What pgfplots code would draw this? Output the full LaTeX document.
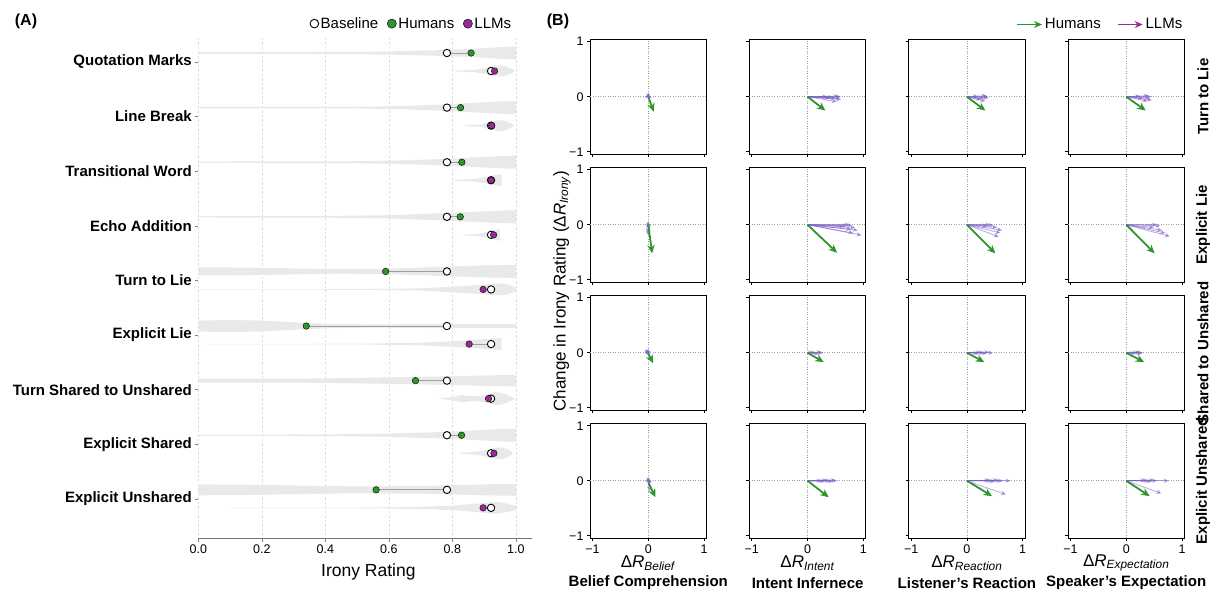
\documentclass[border=0pt]{standalone}
\usepackage{pgfplots}
\pgfplotsset{compat=1.18}
\usepackage{fontspec}
\setmainfont{Liberation Sans}
\usetikzlibrary{arrows.meta}
\definecolor{hgreen}{RGB}{44,150,44}
\definecolor{lpurple}{RGB}{152,42,152}
\definecolor{larrow}{RGB}{125,95,200}
\definecolor{violin}{RGB}{233,233,233}
\definecolor{gridc}{RGB}{222,222,222}
\newcommand\fs[1]{\fontsize{#1}{#1}\selectfont}
\pgfplotsset{
  cell/.style={scale only axis, width=116.5pt, height=114.5pt, anchor=north west,
    xmin=-1.045, xmax=1.045, ymin=-1.04, ymax=1.04,
    xtick={-1,0,1}, ytick={-1,0,1}, xticklabels={}, yticklabels={},
    tick align=outside, tick pos=left, major tick length=3pt,
    axis line style={black, line width=0.9pt}, tick style={black, line width=0.7pt},
    ticklabel style={font=\fs{12.5}}},
  xlab/.style={xticklabels={−1,0,1}},
  ylab/.style={yticklabels={−1,0,1}},
  zero/.style={forget plot, gray!75, dotted, line width=0.5pt},
  hum/.style={forget plot, hgreen, line width=1.8pt, -{Stealth[length=8.5pt,width=7.5pt]}, quiver={u=\thisrow{u},v=\thisrow{v}}},
  llm/.style={forget plot, larrow, opacity=0.55, line width=0.8pt, -{Stealth[length=5pt,width=4.5pt]}, quiver={u=\thisrow{u},v=\thisrow{v}}},
}
\newcommand\zl{\addplot[zero] coordinates {(-1.045,0) (1.045,0)};\addplot[zero] coordinates {(0,-1.04) (0,1.04)};}
\begin{document}
\begin{tikzpicture}
\useasboundingbox (0,0) rectangle (1225pt,594pt);
% ---------------- Panel A ----------------
\begin{axis}[scale only axis, width=333.4pt, height=500.7pt, anchor=north west, at={(198.3pt,556pt)},
  xmin=0, xmax=1.05, ymin=0.56, ymax=9.73, y dir=reverse,
  axis x line*=bottom, axis y line*=left,
  x axis line style={draw=gray!90!black, line width=0.8pt}, y axis line style={draw=none},
  xtick={0,0.2,0.4,0.6,0.8,1}, xticklabels={0.0,0.2,0.4,0.6,0.8,1.0},
  ytick={1,2,3,4,5,6,7,8,9},
  yticklabels={Quotation Marks,Line Break,Transitional Word,Echo Addition,Turn to Lie,Explicit Lie,Turn Shared to Unshared,Explicit Shared,Explicit Unshared},
  yticklabel style={font=\bfseries\fs{15}},
  xticklabel style={font=\fs{12.5}},
  xmajorgrids, grid style={dash pattern=on 2.5pt off 2pt, gridc, line width=0.6pt},
  tick align=outside, major tick length=3pt, tick style={gray, line width=0.6pt},
  xlabel={Irony Rating}, x label style={font=\fs{17.5}, at={(axis description cs:0.51,-0.066)}, anchor=center},
  legend style={draw=none, fill=none, font=\fs{15}, legend columns=3, at={(0.945,1.012)}, anchor=south east, inner sep=0pt,
    /tikz/every even column/.append style={column sep=7pt}},
  legend image code/.code={\draw[#1] plot coordinates {(0pt,0pt)};},
]
% violins humans
\addplot[forget plot, fill=violin, draw=none] coordinates {(0,.820)(.5,.815)(.65,.800)(.78,.780)(.88,.755)(.96,.725)(1,.715)(1,.955)(.96,.945)(.88,.915)(.78,.890)(.65,.870)(.5,.855)(0,.850)};
\addplot[forget plot, fill=violin, draw=none] coordinates {(0,1.823)(.5,1.820)(.65,1.805)(.78,1.775)(.88,1.745)(.96,1.720)(1,1.715)(1,1.955)(.96,1.950)(.88,1.925)(.78,1.895)(.65,1.865)(.5,1.850)(0,1.847)};
\addplot[forget plot, fill=violin, draw=none] coordinates {(0,2.823)(.5,2.817)(.65,2.800)(.78,2.775)(.88,2.745)(.96,2.720)(1,2.715)(1,2.955)(.96,2.950)(.88,2.925)(.78,2.895)(.65,2.870)(.5,2.853)(0,2.847)};
\addplot[forget plot, fill=violin, draw=none] coordinates {(0,3.823)(.4,3.820)(.6,3.805)(.78,3.765)(.88,3.740)(.96,3.720)(1,3.715)(1,3.955)(.96,3.950)(.88,3.930)(.78,3.905)(.6,3.865)(.4,3.850)(0,3.847)};
\addplot[forget plot, fill=violin, draw=none] coordinates {(0,4.760)(.15,4.765)(.3,4.780)(.45,4.795)(.6,4.785)(.75,4.755)(.9,4.725)(1,4.715)(1,4.955)(.9,4.945)(.75,4.915)(.6,4.885)(.45,4.875)(.3,4.890)(.15,4.905)(0,4.910)};
\addplot[forget plot, fill=violin, draw=none] coordinates {(0,5.735)(.1,5.725)(.2,5.735)(.3,5.765)(.4,5.795)(.55,5.805)(.7,5.800)(.85,5.795)(1,5.795)(1,5.875)(.85,5.875)(.7,5.870)(.55,5.865)(.4,5.875)(.3,5.905)(.2,5.935)(.1,5.945)(0,5.935)};
\addplot[forget plot, fill=violin, draw=none] coordinates {(0,6.800)(.2,6.800)(.4,6.795)(.6,6.775)(.75,6.760)(.9,6.740)(1,6.730)(1,6.940)(.9,6.930)(.75,6.910)(.6,6.895)(.4,6.875)(.2,6.870)(0,6.870)};
\addplot[forget plot, fill=violin, draw=none] coordinates {(0,7.825)(.4,7.820)(.6,7.805)(.75,7.780)(.88,7.745)(.96,7.720)(1,7.715)(1,7.955)(.96,7.950)(.88,7.925)(.75,7.890)(.6,7.865)(.4,7.850)(0,7.845)};
\addplot[forget plot, fill=violin, draw=none] coordinates {(0,8.735)(.15,8.740)(.3,8.755)(.5,8.773)(.7,8.765)(.9,8.735)(1,8.725)(1,8.945)(.9,8.935)(.7,8.905)(.5,8.897)(.3,8.915)(.15,8.930)(0,8.935)};
% violins LLMs
\addplot[forget plot, fill=violin, draw=none] coordinates {(.81,1.157)(.87,1.145)(.91,1.105)(.935,1.065)(.96,1.065)(.98,1.105)(.995,1.150)(.995,1.180)(.98,1.225)(.96,1.265)(.935,1.265)(.91,1.225)(.87,1.185)(.81,1.173)};
\addplot[forget plot, fill=violin, draw=none] coordinates {(.84,2.157)(.89,2.145)(.92,2.095)(.945,2.065)(.965,2.075)(.985,2.125)(.995,2.155)(.995,2.175)(.985,2.205)(.965,2.255)(.945,2.265)(.92,2.235)(.89,2.185)(.84,2.173)};
\addplot[forget plot, fill=violin, draw=none] coordinates {(.8,3.160)(.86,3.145)(.9,3.115)(.93,3.075)(.955,3.055)(.955,3.275)(.93,3.255)(.9,3.215)(.86,3.185)(.8,3.170)};
\addplot[forget plot, fill=violin, draw=none] coordinates {(.83,4.160)(.88,4.145)(.91,4.115)(.935,4.075)(.95,4.055)(.95,4.275)(.935,4.255)(.91,4.215)(.88,4.185)(.83,4.170)};
\addplot[forget plot, fill=violin, draw=none] coordinates {(0,5.161)(.5,5.159)(.7,5.145)(.8,5.115)(.88,5.085)(.94,5.055)(.97,5.065)(.985,5.095)(1,5.135)(1,5.195)(.985,5.235)(.97,5.265)(.94,5.275)(.88,5.245)(.8,5.215)(.7,5.185)(.5,5.171)(0,5.169)};
\addplot[forget plot, fill=violin, draw=none] coordinates {(.02,6.161)(.5,6.159)(.7,6.140)(.8,6.115)(.88,6.085)(.955,6.055)(.955,6.275)(.88,6.245)(.8,6.215)(.7,6.190)(.5,6.171)(.02,6.169)};
\addplot[forget plot, fill=violin, draw=none] coordinates {(.76,7.161)(.8,7.135)(.83,7.100)(.86,7.120)(.9,7.105)(.94,7.045)(.97,7.085)(.995,7.155)(.995,7.175)(.97,7.245)(.94,7.285)(.9,7.225)(.86,7.210)(.83,7.230)(.8,7.195)(.76,7.169)};
\addplot[forget plot, fill=violin, draw=none] coordinates {(.82,8.160)(.86,8.145)(.9,8.115)(.935,8.065)(.955,8.055)(.975,8.095)(.99,8.145)(.99,8.185)(.975,8.235)(.955,8.275)(.935,8.265)(.9,8.215)(.86,8.185)(.82,8.170)};
\addplot[forget plot, fill=violin, draw=none] coordinates {(.1,9.162)(.5,9.159)(.7,9.145)(.8,9.125)(.88,9.085)(.94,9.055)(.97,9.085)(1,9.125)(1,9.205)(.97,9.245)(.94,9.275)(.88,9.245)(.8,9.205)(.7,9.185)(.5,9.171)(.1,9.168)};
% connecting lines
\addplot[forget plot, gray!75, line width=0.9pt, unbounded coords=jump] coordinates {
(0.783,0.835)(0.859,0.835)(nan,nan)(0.783,1.835)(0.826,1.835)(nan,nan)(0.783,2.835)(0.830,2.835)(nan,nan)
(0.783,3.835)(0.825,3.835)(nan,nan)(0.783,4.835)(0.590,4.835)(nan,nan)(0.783,5.835)(0.340,5.835)(nan,nan)
(0.783,6.835)(0.684,6.835)(nan,nan)(0.783,7.835)(0.829,7.835)(nan,nan)(0.783,8.835)(0.560,8.835)(nan,nan)
(0.922,1.165)(0.933,1.165)(nan,nan)(0.922,2.165)(0.924,2.165)(nan,nan)(0.922,3.165)(0.922,3.165)(nan,nan)
(0.922,4.165)(0.930,4.165)(nan,nan)(0.922,5.165)(0.897,5.165)(nan,nan)(0.922,6.165)(0.853,6.165)(nan,nan)
(0.922,7.165)(0.914,7.165)(nan,nan)(0.922,8.165)(0.931,8.165)(nan,nan)(0.922,9.165)(0.897,9.165)};
% baseline circles
\addplot[forget plot, only marks, mark=*, mark size=3.7pt, mark options={fill=white, draw=black, line width=0.9pt}] coordinates {
(0.783,0.835)(0.783,1.835)(0.783,2.835)(0.783,3.835)(0.783,4.835)(0.783,5.835)(0.783,6.835)(0.783,7.835)(0.783,8.835)
(0.922,1.165)(0.922,2.165)(0.922,3.165)(0.922,4.165)(0.922,5.165)(0.922,6.165)(0.922,7.165)(0.922,8.165)(0.922,9.165)};
% humans
\addplot[forget plot, only marks, mark=*, mark size=3.3pt, mark options={fill=hgreen, draw=none}] coordinates {
(0.859,0.835)(0.826,1.835)(0.830,2.835)(0.825,3.835)(0.590,4.835)(0.340,5.835)(0.684,6.835)(0.829,7.835)(0.560,8.835)};
% LLMs
\addplot[forget plot, only marks, mark=*, mark size=3.3pt, mark options={fill=lpurple, draw=none}] coordinates {
(0.933,1.165)(0.924,2.165)(0.922,3.165)(0.930,4.165)(0.897,5.165)(0.853,6.165)(0.914,7.165)(0.931,8.165)(0.897,9.165)};
\addlegendimage{only marks, mark=*, mark size=4.3pt, mark options={fill=white, draw=black, line width=0.9pt}}
\addlegendentry{Baseline}
\addlegendimage{only marks, mark=*, mark size=4.6pt, mark options={fill=hgreen, draw=none}}
\addlegendentry{Humans}
\addlegendimage{only marks, mark=*, mark size=4.6pt, mark options={fill=lpurple, draw=none}}
\addlegendentry{LLMs}
\end{axis}
% ---------------- Panel B ----------------
% Row 1: Turn to Lie
\begin{axis}[cell, ylab, at={(590pt,554.5pt)}]
\zl
\addplot[llm] table[row sep=\\]{x y u v\\ 0 0 -0.03 0.06\\ 0 0 0.02 0.05\\ 0 0 0.03 -0.03\\ 0 0 -0.02 0.02\\ 0 0 0.01 0.07\\};
\addplot[hum] table[row sep=\\]{x y u v\\ 0.01 -0.03 0.09 -0.24\\};
\end{axis}
\begin{axis}[cell, at={(749.3pt,554.5pt)}]
\zl
\addplot[llm] table[row sep=\\]{x y u v\\ 0 0 0.6 0\\ 0 0 0.58 -0.02\\ 0 0 0.55 0.01\\ 0 0 0.5 -0.03\\ 0 0 0.45 -0.01\\ 0 0 0.6 -0.05\\ 0 0 0.52 -0.09\\ 0 0 0.4 -0.02\\ 0 0 0.35 0\\};
\addplot[hum] table[row sep=\\]{x y u v\\ 0 0 0.32 -0.25\\};
\end{axis}
\begin{axis}[cell, at={(908.7pt,554.5pt)}]
\zl
\addplot[llm] table[row sep=\\]{x y u v\\ 0 0 0.38 0\\ 0 0 0.39 -0.02\\ 0 0 0.35 0.02\\ 0 0 0.3 -0.03\\ 0 0 0.33 -0.08\\ 0 0 0.25 -0.05\\ 0 0 0.2 0.01\\};
\addplot[hum] table[row sep=\\]{x y u v\\ 0 0 0.33 -0.25\\};
\end{axis}
\begin{axis}[cell, at={(1068pt,554.5pt)},
  legend style={draw=none, fill=none, font=\fs{15}, legend columns=2, at={(1.0,1.06)}, anchor=south east, inner sep=0pt,
    /tikz/every even column/.append style={column sep=14pt}},
  legend image code/.code={\draw[#1] (0pt,0pt) -- (25pt,0pt);}]
\zl
\addplot[llm] table[row sep=\\]{x y u v\\ 0 0 0.45 0\\ 0 0 0.42 -0.02\\ 0 0 0.46 -0.06\\ 0 0 0.38 -0.08\\ 0 0 0.3 -0.03\\ 0 0 0.25 0.01\\ 0 0 0.4 0.02\\};
\addplot[hum] table[row sep=\\]{x y u v\\ 0 0 0.35 -0.25\\};
\addlegendimage{hgreen, line width=1.8pt, -{Stealth[length=8pt,width=7pt]}}
\addlegendentry{Humans}
\addlegendimage{lpurple, line width=1.8pt, -{Stealth[length=8pt,width=7pt]}}
\addlegendentry{LLMs}
\end{axis}
% Row 2: Explicit Lie
\begin{axis}[cell, ylab, at={(590pt,426.5pt)}]
\zl
\addplot[llm] table[row sep=\\]{x y u v\\ 0 0 -0.03 0.05\\ 0 0 0 0.06\\ 0 0 0.02 -0.1\\ 0 0 0 -0.2\\ 0 0 -0.01 -0.15\\};
\addplot[hum] table[row sep=\\]{x y u v\\ 0 0 0.07 -0.52\\};
\end{axis}
\begin{axis}[cell, at={(749.3pt,426.5pt)}]
\zl
\addplot[llm] table[row sep=\\]{x y u v\\ 0 0 0.75 0\\ 0 0 0.8 -0.01\\ 0 0 0.7 -0.02\\ 0 0 0.85 -0.05\\ 0 0 0.9 -0.1\\ 0 0 0.97 -0.19\\ 0 0 0.82 -0.15\\ 0 0 0.65 -0.03\\ 0 0 0.78 -0.08\\};
\addplot[hum] table[row sep=\\]{x y u v\\ 0 0 0.53 -0.51\\};
\end{axis}
\begin{axis}[cell, at={(908.7pt,426.5pt)}]
\zl
\addplot[llm] table[row sep=\\]{x y u v\\ 0 0 0.63 -0.1\\ 0 0 0.57 -0.22\\ 0 0 0.48 -0.01\\ 0 0 0.42 0\\ 0 0 0.54 -0.05\\ 0 0 0.36 -0.02\\ 0 0 0.6 -0.15\\};
\addplot[hum] table[row sep=\\]{x y u v\\ 0 0 0.51 -0.52\\};
\end{axis}
\begin{axis}[cell, at={(1068pt,426.5pt)}]
\zl
\addplot[llm] table[row sep=\\]{x y u v\\ 0 0 0.78 -0.21\\ 0 0 0.61 -0.02\\ 0 0 0.55 0\\ 0 0 0.64 -0.1\\ 0 0 0.49 -0.05\\ 0 0 0.7 -0.15\\};
\addplot[hum] table[row sep=\\]{x y u v\\ 0 0 0.51 -0.52\\};
\end{axis}
% Row 3: Shared to Unshared
\begin{axis}[cell, ylab, at={(590pt,298.5pt)}]
\zl
\addplot[llm] table[row sep=\\]{x y u v\\ 0 0 -0.07 0.05\\ 0 0 -0.04 0.07\\ 0 0 0.03 0.04\\ 0 0 0.04 -0.03\\ 0 0 -0.05 0.02\\};
\addplot[hum] table[row sep=\\]{x y u v\\ 0 -0.02 0.09 -0.17\\};
\end{axis}
\begin{axis}[cell, at={(749.3pt,298.5pt)}]
\zl
\addplot[llm] table[row sep=\\]{x y u v\\ 0 0 0.28 0\\ 0 0 0.25 0.01\\ 0 0 0.2 -0.02\\ 0 0 0.15 0\\ 0 0 0.1 0.01\\};
\addplot[hum] table[row sep=\\]{x y u v\\ 0 0 0.29 -0.17\\};
\end{axis}
\begin{axis}[cell, at={(908.7pt,298.5pt)}]
\zl
\addplot[llm] table[row sep=\\]{x y u v\\ 0 0 0.47 0\\ 0 0 0.4 0.01\\ 0 0 0.35 -0.01\\ 0 0 0.3 0\\ 0 0 0.25 0.01\\ 0 0 0.2 -0.01\\};
\addplot[hum] table[row sep=\\]{x y u v\\ 0 0 0.31 -0.17\\};
\end{axis}
\begin{axis}[cell, at={(1068pt,298.5pt)}]
\zl
\addplot[llm] table[row sep=\\]{x y u v\\ 0 0 0.3 0\\ 0 0 0.28 -0.01\\ 0 0 0.25 0.01\\ 0 0 0.2 0\\ 0 0 0.15 -0.01\\};
\addplot[hum] table[row sep=\\]{x y u v\\ 0 0 0.32 -0.17\\};
\end{axis}
% Row 4: Explicit Unshared
\begin{axis}[cell, ylab, xlab, at={(590pt,170.5pt)}]
\zl
\addplot[llm] table[row sep=\\]{x y u v\\ 0 0 -0.03 0.06\\ 0 0 0.03 0.05\\ 0 0 0.05 -0.04\\ 0 0 0.03 -0.19\\ 0 0 -0.02 0.02\\};
\addplot[hum] table[row sep=\\]{x y u v\\ 0 -0.03 0.13 -0.27\\};
\end{axis}
\begin{axis}[cell, xlab, at={(749.3pt,170.5pt)}]
\zl
\addplot[llm] table[row sep=\\]{x y u v\\ 0 0 0.53 0\\ 0 0 0.5 0.01\\ 0 0 0.45 -0.01\\ 0 0 0.4 0\\ 0 0 0.35 0.01\\ 0 0 0.3 -0.01\\ 0 0 0.25 0\\};
\addplot[hum] table[row sep=\\]{x y u v\\ 0 0 0.38 -0.3\\};
\end{axis}
\begin{axis}[cell, xlab, at={(908.7pt,170.5pt)}]
\zl
\addplot[llm] table[row sep=\\]{x y u v\\ 0 0 0.78 0\\ 0 0 0.7 -0.25\\ 0 0 0.6 0\\ 0 0 0.55 0.01\\ 0 0 0.5 -0.01\\ 0 0 0.45 0\\ 0 0 0.4 0.01\\ 0 0 0.65 0\\};
\addplot[hum] table[row sep=\\]{x y u v\\ 0 0 0.45 -0.28\\};
\end{axis}
\begin{axis}[cell, xlab, at={(1068pt,170.5pt)}]
\zl
\addplot[llm] table[row sep=\\]{x y u v\\ 0 0 0.76 0\\ 0 0 0.63 -0.23\\ 0 0 0.55 0\\ 0 0 0.5 0.01\\ 0 0 0.45 -0.01\\ 0 0 0.4 0\\ 0 0 0.35 0.01\\};
\addplot[hum] table[row sep=\\]{x y u v\\ 0 0 0.42 -0.28\\};
\end{axis}
% ---------------- Text ----------------
\node[font=\bfseries\fs{16}] at (26pt,573pt) {(A)};
\node[font=\bfseries\fs{16}] at (558pt,573pt) {(B)};
\node[rotate=90, font=\fs{17}] at (562pt,303pt) {Change in Irony Rating (Δ\textit{R}\textsubscript{\textit{Irony}})};
\node[font=\fs{17}] at (648.3pt,31pt) {Δ\textit{R}\textsubscript{\textit{Belief}}};
\node[font=\fs{17}] at (807.6pt,31pt) {Δ\textit{R}\textsubscript{\textit{Intent}}};
\node[font=\fs{17}] at (966.9pt,31pt) {Δ\textit{R}\textsubscript{\textit{Reaction}}};
\node[font=\fs{17}] at (1126.2pt,31pt) {Δ\textit{R}\textsubscript{\textit{Expectation}}};
\node[font=\bfseries\fs{15}] at (648.3pt,11pt) {Belief Comprehension};
\node[font=\bfseries\fs{15}] at (807.6pt,11pt) {Intent Infernece};
\node[font=\bfseries\fs{15}] at (966.9pt,11pt) {Listener’s Reaction};
\node[font=\bfseries\fs{15}] at (1126.2pt,11pt) {Speaker’s Expectation};
\node[rotate=90, font=\bfseries\fs{15}] at (1203pt,497.2pt) {Turn to Lie};
\node[rotate=90, font=\bfseries\fs{15}] at (1203pt,369.2pt) {Explicit Lie};
\node[rotate=90, font=\bfseries\fs{15}] at (1203pt,241.2pt) {Shared to Unshared};
\node[rotate=90, font=\bfseries\fs{15}] at (1203pt,113.2pt) {Explicit Unshared};
\end{tikzpicture}
\end{document}
